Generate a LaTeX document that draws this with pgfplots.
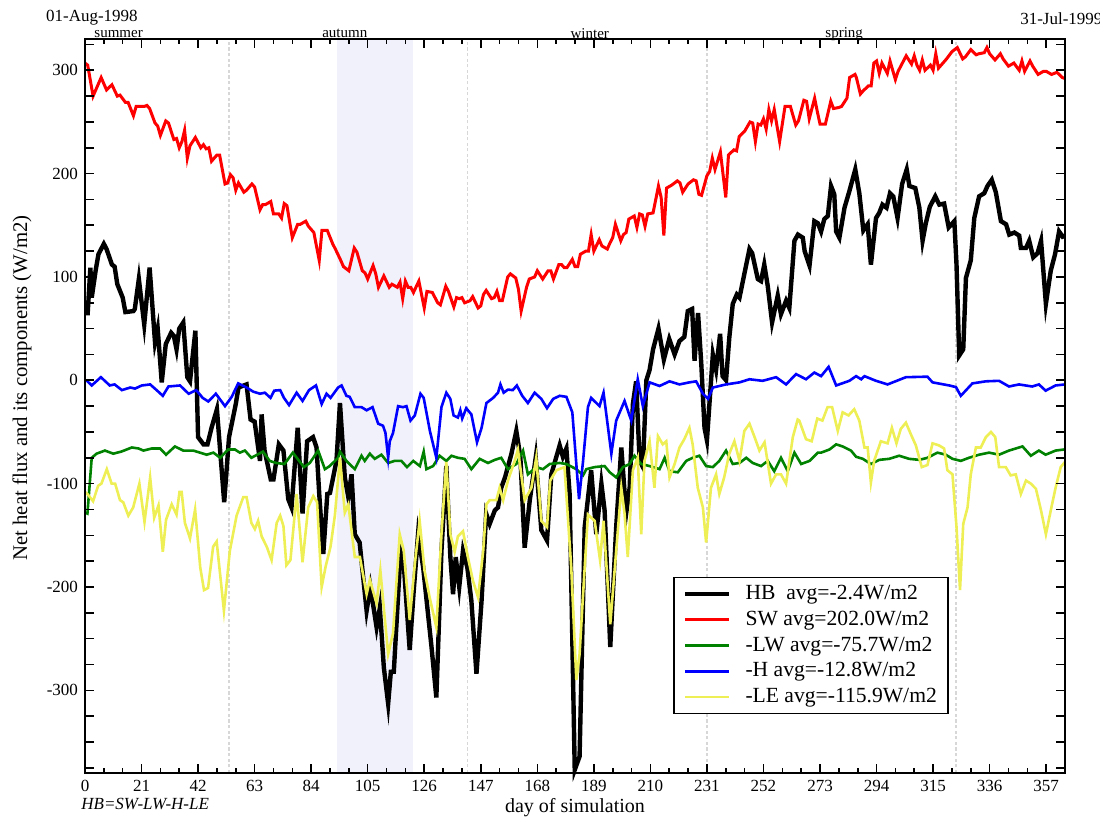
\documentclass[border=0pt]{standalone}
\usepackage{fontspec}
\setmainfont{Liberation Serif}
\usepackage{pgfplots}
\pgfplotsset{compat=1.18}
\usetikzlibrary{calc}
\definecolor{leyellow}{RGB}{238,238,85}
\definecolor{shadecol}{RGB}{241,241,252}
\definecolor{lwgreen}{RGB}{0,130,0}
\definecolor{seasongray}{RGB}{215,215,215}
\begin{document}
\begin{tikzpicture}
\begin{axis}[
  name=ax,
  scale only axis,
  width=490pt, height=366.85pt,
  xmin=0, xmax=364, ymin=-380, ymax=330,
  enlargelimits=false,
  clip=false,
  axis on top,
  xtick={0,21,...,357},
  minor x tick num=2,
  ytick={-300,-200,...,300},
  extra y ticks={-375,-350,-325,-275,-250,-225,-175,-150,-125,-75,-50,-25,25,50,75,125,150,175,225,250,275,325},
  extra y tick labels={},
  tick align=inside,
  major tick length=4.5pt,
  minor tick length=2.6pt,
  every tick/.style={black, line width=0.8pt},
  axis line style={line width=1pt},
  tick label style={font=\fontsize{8.5}{10}\selectfont},
  /pgf/number format/assume math mode=true,
  xlabel={day of simulation},
  ylabel={Net heat flux and its components (W/m2)},
  xlabel style={at={(axis description cs:0.5,-0.0477)}, anchor=center, font=\fontsize{10}{12}\selectfont},
  ylabel style={at={(axis description cs:-0.0643,0.5247)}, anchor=center, font=\fontsize{10.4}{12}\selectfont},
  legend style={at={(rel axis cs:0.6003,0.2676)}, anchor=north west, draw=black, line width=0.8pt,
    font=\fontsize{10.8}{13}\selectfont, inner xsep=4.5pt, inner ysep=3pt, row sep=2.2pt,
    nodes={inner sep=1pt},
    /tikz/every odd column/.append style={column sep=6pt}},
  legend cell align=left,
  legend image code/.code={\draw[#1] (0pt,0pt) -- (22pt,0pt);},
]
\fill[shadecol] (axis cs:93.5,-380) rectangle (axis cs:121.7,330);
\foreach \d in {53.5,142,231,323.5}{
  \edef\temp{\noexpand\draw[seasongray, line width=0.6pt, dash pattern=on 1.6pt off 1.2pt] (axis cs:\d,-380) -- (axis cs:\d,330);}
  \temp
}

% HB
\addplot[black, line width=2.2pt, mark=none] coordinates {
(0,65) (1,65) (2,109) (2.5,80) (4,107) (5,122) (7,132) (8,127) (10,112) (11,110) (12,93) (14,80) (15,66) (18,67) (18.5,69) (20,98) (22,54) (24,109) (26,37) (27,50) (28.5,-2) (30,35) (32,46) (33,43) (34,30) (35,50) (36.5,56) (38,3) (39,-1) (41,48)
(42,-55) (44,-62) (45.5,-62) (47,-46) (49,-28) (51.7,-118) (53.5,-55) (56,-23) (57,-7) (60,-4) (61.5,-38) (63,-40) (65,-78) (65.6,-33) (66.7,-68) (69,-96) (70,-96) (72,-62) (73.7,-68) (75.5,-115) (76.7,-123) (79,-46) (80.8,-129) (82.5,-59) (84.7,-55) (86,-65) (87,-110) (88.5,-168) (90,-110) (91,-109) (93.4,-78)
(94.7,-22) (96.5,-94) (97.8,-113) (99,-91) (100.2,-149) (102,-157) (104.6,-223) (106,-200) (108.3,-239) (109.5,-220) (111,-278) (112.6,-313) (113.6,-282) (114.7,-282) (117.2,-166) (118.4,-178) (120.6,-261) (122,-207) (123.7,-149) (125.6,-181) (127.4,-226) (128.7,-258) (130.5,-307) (132.4,-165) (134.2,-83) (135.7,-171) (136.7,-207) (137.7,-171) (139,-200) (140.4,-165) (142,-181) (143.5,-213) (145.4,-284) (147.3,-213) (149,-129) (150.3,-139) (152.2,-126) (153.4,-123) (154.6,-104) (156,-94) (158.4,-71) (160.2,-49) (161.7,-74) (163.3,-162) (165.2,-116) (167.4,-75) (169.5,-145) (171.6,-155) (173.2,-91) (176.3,-63) (177.5,-74) (178.8,-66) (180,-110) (181.9,-377) (183.7,-364) (185.6,-142) (188,-87) (189.9,-149) (191.8,-100) (193,-126) (195.1,-258) (197.3,-142) (199.2,-65) (201,-129) (202.3,-104) (203.5,-23) (204.7,-1) (206,-78) (207.2,-84) (208.5,0) (209.7,10)
(211,30) (213,50) (215,20) (217,40) (219,25) (220.8,38) (222.6,42) (223.9,67) (225.5,69) (226.4,19) (227.7,65) (228.9,16) (230.1,-46) (231,-58) (233.2,25) (234.4,10) (235.9,45) (236.8,4) (238.1,0) (239.3,41) (240.6,74) (242.1,83) (243.1,80) (244.9,103) (246.8,127) (247.8,123) (249.9,98) (251.1,96) (252.3,112) (253.6,91) (255.2,56) (257.3,82) (258.5,64) (260.4,77) (261.6,70) (263.5,135) (264.8,141) (266.6,138) (267.3,125) (269.1,111) (270.9,154) (272.2,152) (273.4,144) (274.6,156) (275.9,159) (277.1,188) (278.3,180) (279,144) (280.2,138) (282.1,167) (283.9,183) (286.1,204) (287.6,181) (289.1,145) (290.7,151) (291.9,112) (293.8,157) (295,162) (296.2,170) (297.7,167) (299,181) (300.2,178) (301.8,157) (303.5,190) (305.2,204) (306.2,188) (308.4,186) (309.9,167) (311.1,135) (312.3,152) (313.8,168) (315.8,178) (317.3,170) (319.1,171) (320.8,148) (322.9,154) (323.7,112) (324.7,24) (326.2,30) (327.2,99) (329,116) (330.3,157) (332.1,178) (334,181) (335.2,188) (336.8,194) (338.3,182) (340.2,154) (342.1,151) (343.3,141) (345.2,143) (347,140) (347.6,128) (349.5,128) (350.7,135) (352.2,119) (353.8,123) (355.1,135) (356.9,74) (358.7,106) (360.3,122) (361.8,144) (363.1,139) (364,140)
};
\addlegendentry{HB\enspace avg=-2.4W/m2}

% SW
\addplot[red, line width=1.5pt, mark=none] coordinates {
(0,307) (1,305) (3,275) (6,293) (8,281) (10,286) (12,275) (13,276) (15,269) (16,269) (18,256) (19,265) (22,265) (23,266) (24,263) (26,249) (27,246) (28,237) (30,251) (31,249) (33,233) (34,234) (35,225) (36,231) (37,242) (38,215) (39,227) (41,235) (43,225) (44,228) (45,224) (46,225) (47,212) (49,218) (50,218) (52,190) (53,191) (54,199) (55,196) (56,184) (57,191) (59,182) (60,184) (62,190) (63,187) (65,165) (66,170) (67,170) (69,173) (70,161) (72,161) (73,157) (74,171) (75,169) (77,138) (79,151) (80,151) (82,154) (83,149) (85,143) (87,116) (88,145) (90,145) (92,132) (93,127) (95,116) (96,110) (98,106) (100,128) (101,124) (103,106) (104,104) (105,98) (107,111) (108,103) (109,90) (111,101) (113,90) (114,93) (116,90) (117,95) (118,79) (119,96) (120,90) (121,90) (122,85) (124,96) (126,70) (127,86) (129,85) (131,75) (132,73) (134,91) (135,86) (137,71) (138,80) (139,79) (140,80) (141,75) (143,77) (144,81) (146,70) (147,72) (148,83) (149,87) (151,79) (152,80) (153,86) (154,77) (155,77) (157,100) (158,103) (160,99) (161,88) (162,67) (164,90) (165,98) (167,100) (168,106) (170,98) (172,106) (173,106) (174,98) (176,112) (177,112) (178,109) (179,109) (181,117) (182,110) (183,110) (184,122) (186,125) (187,125) (188,141) (189,125) (191,136) (192,130) (194,127) (195,133) (196,138) (197,151) (199,135) (200,141) (201,143) (202,156) (204,159) (205,148) (206,161) (207,160) (208,149) (209,161) (211,162) (213,188) (214,177) (215,140) (216,186) (218,189) (220,193) (221,191) (222,182) (224,190) (226,194) (227,193) (228,180) (229,179) (231,198) (232,202) (233,215) (234,204) (236,221) (237,199) (238,177) (239,218) (241,223) (242,222) (243,236) (245,241) (247,250) (248,249) (249,231) (250,248) (251,247) (252,253) (253,243) (254,262) (255,251) (256,262) (258,231) (260,265) (262,265) (263,256) (264,247) (265,251) (267,271) (268,270) (269,253) (271,273) (272,260) (273,248) (275,248) (277,270) (278,263) (280,264) (281,265) (283,273) (284,293) (286,296) (286.5,293) (288,277) (289,280) (291,285) (292,285) (293,307) (294,309) (295,297) (296,307) (298,297) (299,309) (301,291) (302,299) (304,309) (305,314) (307,306) (308,314) (309,305) (310,300) (311,310) (312,300) (314,305) (315,300) (316,316) (317,302) (318,305) (320,311) (322,318) (324,322) (326,311) (327,313) (329,320) (331,315) (332,316) (334,317) (335,322) (336,316) (338,310) (340,316) (341,311) (343,304) (345,307) (347,300) (348,309) (349,299) (351,309) (352,304) (354,296) (356,299) (357,299) (359,296) (361,298) (363,293) (364,292)
};
\addlegendentry{SW avg=202.0W/m2}

% -LW
\addplot[lwgreen, line width=1.3pt, mark=none] coordinates {
(0,-128) (0.9,-129) (2.5,-75) (4.3,-71) (7.4,-68) (10.5,-71) (13.5,-69) (17.4,-65) (19.9,-66) (21.7,-68) (24.8,-66) (27.9,-66) (30.1,-72) (33.4,-64) (36.5,-68) (40.2,-68) (45.2,-72) (47.7,-70) (50.2,-75) (53.2,-67) (55.7,-67) (57.5,-70) (59.4,-68) (61.8,-75) (66.1,-69) (68.6,-78) (71,-80) (74.1,-81) (77.2,-70) (81.3,-84) (83.5,-80) (86.6,-68) (89.1,-86) (90.9,-83) (94,-75) (94.7,-69) (97.1,-78) (100.2,-86) (102.7,-73) (103.9,-78) (105.8,-71) (107.6,-76) (110.1,-72) (112.6,-80) (115,-78) (117.5,-78) (119.6,-84) (121.9,-78) (124.4,-83) (125.8,-69) (126.8,-86) (129.3,-83) (131.7,-73) (134.2,-78) (136.1,-73) (138.5,-75) (141,-76) (143.5,-86) (146.6,-76) (149.7,-80) (152.2,-77) (154.6,-75) (157.1,-86) (160.2,-81) (162.7,-68) (164.5,-91) (167.6,-84) (170.1,-86) (172.6,-81) (176.3,-80) (178.8,-81) (182.5,-86) (185,-92) (186.2,-86) (189.3,-84) (193,-83) (194.9,-89) (197.3,-94) (199.8,-84) (202.3,-81) (204.1,-73) (206.6,-81) (209.7,-83) (213.4,-86) (215.3,-75) (217.1,-88) (220.2,-89) (223.3,-78) (225.7,-75) (228.2,-73) (230.7,-83) (233.2,-84) (235.6,-78) (238.1,-68) (240.6,-81) (243.1,-80) (245.6,-75) (248,-80) (251.1,-83) (253.6,-78) (256,-88) (258.5,-75) (261,-88) (263.5,-70) (266,-81) (269.1,-78) (272.2,-70) (273.4,-70) (276.5,-67) (279,-62) (281.4,-64) (284.5,-68) (286.4,-74) (288.9,-76) (291.9,-81) (295,-77) (298.7,-76) (302.4,-73) (306.1,-76) (309.9,-77) (312.9,-75) (316.6,-70) (319.7,-72) (322.2,-76) (325.3,-78) (328.3,-75) (332.1,-72) (335.8,-70) (339.5,-72) (343.2,-68) (345.7,-66) (348.2,-64) (351.3,-73) (354.3,-68) (356.8,-72) (360.5,-68) (363.6,-67)
};
\addlegendentry{-LW avg=-75.7W/m2}

% -H
\addplot[blue, line width=1.3pt, mark=none] coordinates {
(0,0) (0.7,-0.5) (2.5,-5) (5.9,3) (9.2,-5) (11,-4) (13.7,-9.5) (16.8,-7) (18.6,-8) (21.1,-5) (24.2,-4) (26.6,-9.5) (28.9,-15) (31,-6) (35.3,-5) (38.5,-13) (41.3,-9.5) (43.7,-17) (45.8,-20.5) (48.6,-13) (52,-25) (54.5,-16) (56.9,-3) (60,-7) (62.5,-11) (65,-13) (66.8,-12) (68.9,-17) (70.3,-10) (72.5,-9.5) (73.9,-17) (75.8,-24) (78.6,-12) (80.8,-20) (83.2,-9.5) (85.8,-5) (87.9,-23) (89.7,-13) (91.2,-17) (94,-7) (95.3,-5) (97.1,-15) (98.3,-16) (100.2,-26) (102.7,-26) (104.6,-29) (106.8,-26) (108.9,-42) (110.7,-44) (111.6,-51) (112.6,-75) (113.2,-59) (114.4,-51) (116.3,-25) (118.1,-26) (119.4,-25) (120.9,-39) (122.5,-34) (124.6,-13) (125.8,-17) (128.1,-49) (130.5,-75) (132.4,-26) (134.2,-12) (135.7,-18) (136.9,-34) (138.5,-36) (139.4,-29) (140.1,-37) (141.6,-27) (143.5,-33) (145.6,-60) (147.3,-46) (149.1,-22) (151.6,-17) (153.4,-12) (154.3,-4) (155.5,-12) (157.1,-9) (158.9,-9.5) (160.4,-5) (162.4,-15) (164.5,-22) (167,-12) (169.5,-18) (171.6,-27) (173.9,-18) (176.3,-15) (178.8,-16) (181,-31) (183.5,-115) (185,-78) (186.8,-26) (188,-17) (191.1,-25) (192.6,-12) (195.5,-71) (197.3,-39) (200.4,-20) (202.9,-39) (205.3,1) (207.2,-25) (209.7,-2) (213.4,-5.5) (217.1,-1) (220.8,-4) (224.5,-2) (227,-1) (229.5,-13) (231.4,-18) (233.2,-7) (238.1,-4) (243.1,-2) (246.8,1) (251.7,-0.5) (256.7,3) (260.4,-4) (264.1,6) (267.8,1) (270.9,7.5) (273.4,4) (276.2,13) (279,-5) (283.9,-0.5) (286.4,4) (288.3,1) (289.5,4) (293.8,-0.5) (298.1,-4) (304.9,3) (312.9,3.5) (314.8,-2) (321,-5) (323.5,-6.6) (325.3,-15) (329.6,-3) (334.6,-1) (339.5,-0.5) (343.2,-6) (346.9,-4) (351.8,-6) (354.3,-4) (356.8,-10) (360.5,-5) (364,-4)
};
\addlegendentry{-H avg=-12.8W/m2}

% -LE
\addplot[leyellow, line width=1.3pt, mark=none] coordinates {
(0,-108) (0.9,-110) (3,-117) (4.9,-102) (6.1,-100) (8.1,-86) (9.9,-100) (11.2,-100) (13,-116) (14.2,-118) (16.1,-131) (17.9,-123) (20.2,-100) (22.1,-137) (24.2,-94) (25.7,-133) (27.3,-121) (28.9,-166) (30.1,-135) (32.2,-120) (34,-130) (35.1,-108) (35.9,-108) (37.1,-138) (39,-153) (40.9,-125) (42.8,-181) (44.2,-203) (45.7,-201) (47.6,-161) (48.9,-156) (50.4,-193) (51.6,-223) (53.8,-165) (56.3,-131) (58.8,-113) (60,-113) (61.8,-138) (63.1,-144) (64.3,-136) (65.6,-151) (67.5,-161) (69.3,-174) (71.2,-138) (72.5,-131) (73.7,-141) (74.8,-179) (76.3,-174) (78.6,-110) (80.8,-176) (82.9,-123) (84.8,-112) (86.2,-118) (87.9,-200) (89.4,-180) (91.2,-161) (92.8,-131) (94.7,-75) (96.5,-128) (97.8,-120) (100.2,-171) (102.1,-171) (104.6,-207) (105.8,-193) (108.3,-216) (109.7,-184) (111.4,-232) (112.6,-265) (114.4,-245) (116.9,-149) (118.4,-165) (120.6,-232) (122.5,-178) (124.3,-136) (126.1,-184) (128,-210) (130.5,-239) (132.4,-149) (134.2,-79) (135.7,-149) (137.3,-166) (138.5,-151) (140.4,-146) (142.2,-171) (144.1,-194) (146,-210) (147.9,-165) (149.1,-120) (150.3,-116) (152.8,-116) (154,-104) (155.3,-116) (157.1,-97) (159.6,-78) (160.8,-67) (163.3,-116) (165.8,-104) (167.6,-75) (169.5,-136) (171.6,-142) (172.8,-97) (175.1,-87) (178.1,-84) (180.6,-181) (182.5,-290) (183.7,-265) (185,-207) (186.8,-130) (189.3,-136) (191.3,-174) (192.6,-136) (195.1,-236) (197.3,-165) (199.2,-104) (200.4,-129) (201.6,-171) (203.5,-87) (205.3,-75) (206.6,-149) (207.8,-78) (209.7,-59) (211.5,-104) (212.8,-54) (214.6,-62) (215.9,-59) (217.1,-94) (219,-81) (220.8,-65) (222.6,-57) (224.5,-46) (225.7,-62) (227.6,-104) (229.5,-123) (230.7,-157) (232.5,-104) (234.4,-91) (235.6,-110) (237.4,-94) (239.3,-71) (241.2,-59) (243.1,-78) (244.9,-49) (246.8,-42) (248.7,-55) (250.5,-68) (252.4,-60) (254.8,-100) (256.7,-91) (258.5,-91) (260.4,-100) (262.9,-55) (264.7,-38) (265.3,-39) (267.8,-57) (269.9,-59) (272,-37) (273.9,-39) (275.8,-26) (277.5,-26) (279.6,-49) (281.4,-31) (283.6,-34) (285.7,-28) (287.6,-39) (289.5,-65) (290.7,-65) (291.9,-99) (293.1,-78) (295.6,-59) (298.1,-61) (299.7,-46) (301.4,-61) (303,-47) (304.9,-41) (306.7,-52) (308.6,-63) (310.8,-84) (312.9,-82) (314.8,-61) (317.2,-63) (319.1,-66) (320.3,-87) (322.2,-91) (323.7,-142) (325,-203) (326.2,-139) (327.8,-123) (329,-91) (330.9,-65) (332.7,-65) (334.6,-55) (336.5,-50) (338.1,-55) (339.5,-84) (342,-84) (343.8,-92) (345.7,-91) (347.6,-110) (349.5,-97) (351.3,-100) (353.2,-105) (355.1,-126) (356.9,-149) (358.7,-126) (360.5,-104) (362.4,-84) (364,-79)
};
\addlegendentry{-LE avg=-115.9W/m2}

\node[font=\fontsize{8.5}{10}\selectfont, anchor=center] at (rel axis cs:0.0071,1.0295) {01-Aug-1998};
\node[font=\fontsize{8.5}{10}\selectfont, anchor=west, inner sep=0pt] at (rel axis cs:0.954,1.0275) {31-Jul-1999};
\node[font=\fontsize{7.5}{9}\selectfont, anchor=center] at (axis cs:12.5,335.3) {summer};
\node[font=\fontsize{7.5}{9}\selectfont, anchor=center] at (axis cs:96.5,335.3) {autumn};
\node[font=\fontsize{7.5}{9}\selectfont, anchor=center] at (axis cs:187.5,335.3) {winter};
\node[font=\fontsize{7.5}{9}\selectfont, anchor=center] at (axis cs:282,335.3) {spring};
\node[font=\itshape\fontsize{8.5}{10}\selectfont, anchor=west, inner sep=0pt] at (axis cs:-1.5,-410) {HB=SW-LW-H-LE};
\end{axis}
\pgfresetboundingbox
\path[use as bounding box] ($(ax.south west)+(-42.5pt,-27.5pt)$) rectangle ($(ax.north east)+(17.5pt,19.65pt)$);
\end{tikzpicture}
\end{document}
